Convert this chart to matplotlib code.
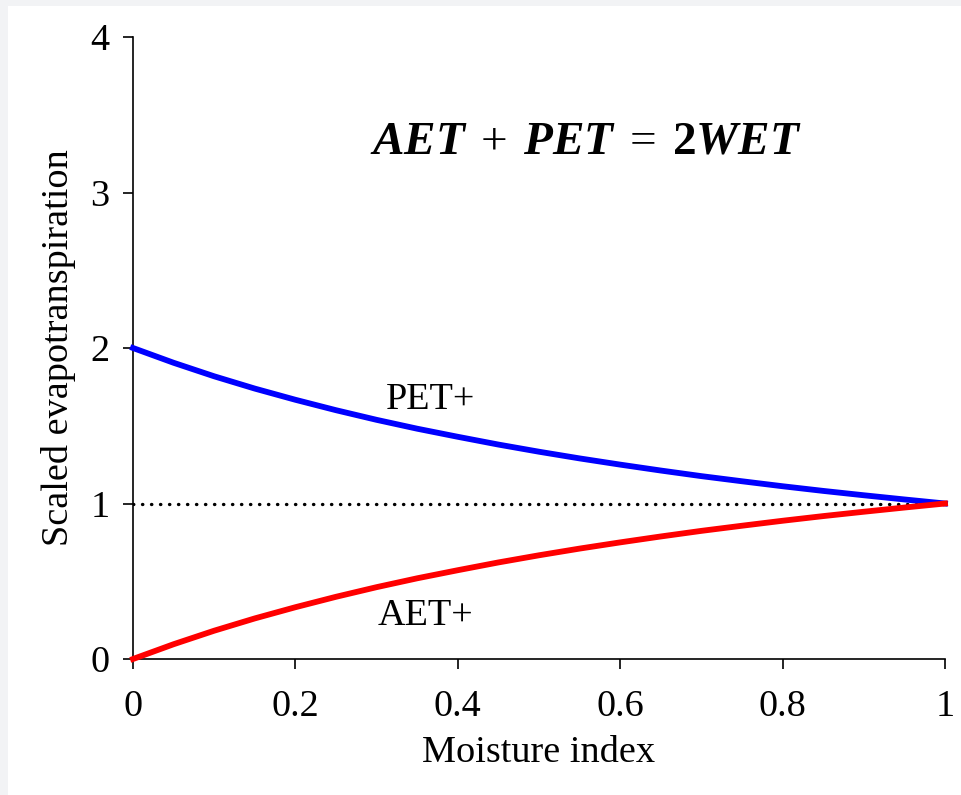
import matplotlib
matplotlib.use("Agg")
import matplotlib.pyplot as plt
from matplotlib.patches import Rectangle

plt.rcParams['font.family'] = ['Liberation Serif', 'DejaVu Serif']
plt.rcParams['mathtext.fontset'] = 'custom'
plt.rcParams['mathtext.rm'] = 'Liberation Serif'
plt.rcParams['mathtext.bf'] = 'Liberation Serif:bold'
plt.rcParams['mathtext.it'] = 'Liberation Serif:italic'
plt.rcParams['mathtext.bfit'] = 'Liberation Serif:bold:italic'

# Data
moisture = [0.0, 0.05, 0.1, 0.15, 0.2, 0.25, 0.3, 0.35, 0.4, 0.45, 0.5,
            0.55, 0.6, 0.65, 0.7, 0.75, 0.8, 0.85, 0.9, 0.95, 1.0]
pet = [2.0, 1.905, 1.818, 1.739, 1.667, 1.6, 1.538, 1.481, 1.429, 1.379, 1.333,
       1.29, 1.25, 1.212, 1.176, 1.143, 1.111, 1.081, 1.053, 1.026, 1.0]
aet = [0.0, 0.095, 0.182, 0.261, 0.333, 0.4, 0.462, 0.519, 0.571, 0.621, 0.667,
       0.71, 0.75, 0.788, 0.824, 0.857, 0.889, 0.919, 0.947, 0.974, 1.0]
ref_x = [0.0, 1.0]
ref_y = [1.0, 1.0]
xticks = [0, 0.2, 0.4, 0.6, 0.8, 1]
xticklabels = ['0', '0.2', '0.4', '0.6', '0.8', '1']
yticks = [0, 1, 2, 3, 4]

W, H = 961, 795
FS = 27.5
fig = plt.figure(figsize=(W / 100, H / 100), dpi=100)
fig.patch.set_facecolor('white')
# light grey border strips (left and top)
fig.patches.append(Rectangle((0, 0), 8 / W, 1, transform=fig.transFigure,
                             facecolor='#f2f3f5', edgecolor='none', zorder=-10))
fig.patches.append(Rectangle((0, 1 - 6 / H), 1, 6 / H, transform=fig.transFigure,
                             facecolor='#f2f3f5', edgecolor='none', zorder=-10))

ax = fig.add_axes([133 / W, 1 - 659 / H, (945 - 133) / W, (659 - 37) / H])
ax.set_facecolor('none')

ax.plot(ref_x, ref_y, color='black', linewidth=2.4, linestyle=(0, (0.1, 2.6)),
        dash_capstyle='round', zorder=2)
ax.plot(moisture, pet, color='#0000ff', linewidth=4.2, clip_on=False, zorder=3)
ax.plot(moisture, aet, color='#ff0000', linewidth=4.2, clip_on=False, zorder=3)

ax.set_xlim(0, 1)
ax.set_ylim(0, 4)
ax.set_xticks(xticks)
ax.set_xticklabels(xticklabels)
ax.set_yticks(yticks)
for s in ['top', 'right']:
    ax.spines[s].set_visible(False)
for s in ['left', 'bottom']:
    ax.spines[s].set_linewidth(1.2)
ax.tick_params(axis='both', direction='out', length=7, width=1.2, labelsize=FS)
ax.tick_params(axis='x', pad=15)
ax.tick_params(axis='y', pad=10)

ax.set_xlabel('Moisture index', fontsize=FS, labelpad=8)
ax.set_ylabel('Scaled evapotranspiration', fontsize=FS, labelpad=10)

ax.text(0.366, 1.665, 'PET+', fontsize=FS, ha='center', va='center')
ax.text(0.36, 0.275, 'AET+', fontsize=FS, ha='center', va='center')
ax.text(0.558, 3.32,
        r'$\mathbfit{AET}\;+\;\mathbfit{PET}\;=\;\mathbf{2}\mathbfit{WET}$',
        fontsize=34, ha='center', va='center')

fig.savefig('out.png', dpi=100, facecolor=fig.get_facecolor())
